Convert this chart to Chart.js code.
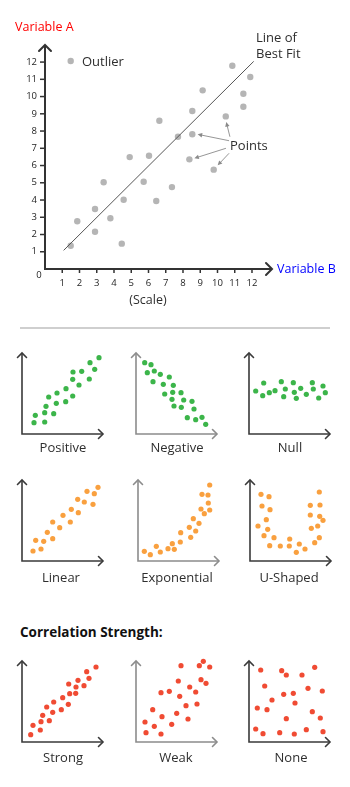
<!DOCTYPE html>
<html><head><meta charset="utf-8">
<script src="https://cdn.jsdelivr.net/npm/chart.js@4.4.1/dist/chart.umd.min.js"></script>
<style>
html,body{margin:0;padding:0;background:#fff;width:350px;height:787px;overflow:hidden;}
#wrap{position:relative;width:350px;height:787px;font-family:"Open Sans",sans-serif;}
canvas{position:absolute;}
.t{position:absolute;white-space:nowrap;line-height:1;color:#2e2e2e;font-size:13px;}
.c{transform:translate(-50%,-50%);}
.l{transform:translateY(-50%);}
</style></head><body><div id="wrap">
<canvas id="main" width="350" height="320" style="left:0;top:0"></canvas>
<div class="t l" style="left:15px;top:27px;color:#ff0000;font-size:12.5px;">Variable A</div>
<div class="t l" style="left:277px;top:269px;color:#0000ff;font-size:12.5px;">Variable B</div>
<div class="t l" style="left:82px;top:61px;">Outlier</div>
<div class="t l" style="left:256px;top:37px;">Line of</div>
<div class="t l" style="left:256px;top:53px;">Best Fit</div>
<div class="t l" style="left:230px;top:145px;">Points</div>
<div class="t c" style="left:148px;top:300px;font-size:12.5px;">(Scale)</div>
<div style="position:absolute;left:20px;top:327px;width:310px;height:1.5px;background:#cfcfcf;"></div>
<div class="t l" style="left:20px;top:633px;color:#111;font-weight:bold;font-size:13.5px;">Correlation Strength:</div>
</div>
<script>
// ---------- main chart data ----------
const mainTicks = [1,2,3,4,5,6,7,8,9,10,11,12];
const pointX = [1.49,1.87,2.90,2.90,3.40,3.79,4.45,4.56,4.91,5.72,6.03,6.45,6.63,7.36,7.71,8.37,8.54,8.54,9.14,9.78,10.48,10.86,11.50,11.50,11.90];
const pointY = [1.35,2.77,3.48,2.16,5.03,2.94,1.47,4.02,6.49,5.06,6.57,3.94,8.60,4.75,7.67,6.36,7.81,9.16,10.36,5.76,8.85,11.79,10.16,9.41,11.13];
const outlierPt = [1.49, 12.06];
const fitLineX = [1.08, 12.10];
const fitLineY = [1.08, 12.04];
// callout arrows: [fromX, fromY, toX, toY] in data units
const calloutArrows = [[10.67,7.44,8.85,7.81],[10.49,7.00,8.66,6.42],[10.72,7.67,10.51,8.52],[10.67,6.71,10.01,6.01]];

// ---------- small chart data (units along 0..81 axes) ----------
const positivePts = [[12,11.3],[13.3,18.7],[22.7,12],[22.7,21.3],[24,27.7],[31.7,20.3],[26.7,37],[35,41],[34.3,30.7],[44,45.3],[43.7,32.3],[51,62],[50.7,54.7],[59.7,62.7],[57,49],[50.7,38],[67.3,55],[68,71.3],[72.7,64.7],[77,76.3]];
const negativePts = [[8.7,71.3],[15,69.3],[11.3,61.3],[18.3,63],[24.3,59.7],[33.3,57],[17,52.3],[27.3,49.7],[37.3,48.7],[28.7,40],[36.7,41.7],[45,41.3],[36,34.7],[47.7,34],[56,32.7],[38,28],[45.3,26.7],[58,25],[51.3,16.3],[59.7,14.3],[66,16.7],[69.7,9.7]];
const nullPts = [[6.7,43],[13.7,38.3],[14.7,51],[20.3,41.3],[26,43.3],[32.3,52.3],[34.7,37.3],[36.3,45],[44.3,51.3],[45.3,41.7],[47.3,35.7],[51.7,45.7],[57.3,39.7],[63.3,51.3],[64.3,45],[69.7,36],[74,48],[76.3,41.3]];
const linearPts = [[11,10],[13.7,20.7],[19,12],[21.7,19.7],[25.3,28.7],[30.7,22.3],[30.7,39],[37.7,33.3],[41,45.7],[48.3,39],[49.3,51.7],[56.3,48.3],[55.7,61.7],[62.3,59],[65,69.7],[71,56.7],[72.3,67.3],[76,73.7]];
const exponentialPts = [[6.3,9.7],[12.3,6.3],[18.3,14.7],[22.3,9],[30,12.3],[34.3,17.3],[36.3,11.7],[42.3,19],[42.7,28.3],[51.3,33.7],[52.7,23.7],[55.3,42.3],[57.7,30],[61,37.7],[63,52],[66.3,47.3],[64,66.7],[70,66],[70.3,58],[71.7,51],[71.7,76]];
const uShapedPts = [[11,66.7],[19,64.3],[12,55],[20,51.3],[16.3,41.3],[8,35],[17.7,31.7],[14,25.3],[24,23.3],[19.7,15.3],[30.3,15],[39.7,22],[39.3,15],[46.3,8.7],[49.3,17],[55,12],[64.7,18.3],[69.3,23.3],[61.3,32.7],[67.7,35],[69.7,44.7],[73,40.7],[60.3,46],[60.3,55.7],[70,56],[69.3,69]];
const strongPts = [[8.7,7.3],[11,16.7],[18.3,12],[19,20.3],[20.7,26.7],[27.3,21.3],[24.7,35],[30.7,29.7],[31.7,40],[39.3,32.3],[40.7,44.3],[46.3,37.7],[47.7,48.3],[46.7,58],[53.7,48.7],[54,55],[56,61.7],[62,56.3],[64.7,70.3],[67,63.7],[74,75]];
const weakPts = [[9,20],[10,9.3],[16.7,32.3],[18.3,15.7],[25,8],[26,25.3],[25,49.3],[33.3,50.7],[35.7,17.7],[40.7,28.7],[42.3,61],[43.7,45.7],[45,76.3],[50,36.3],[52,23],[53.7,55],[59.7,50],[61,38],[63.3,76.3],[65,62.3],[67.3,80.7],[70,58.7],[73.7,75]];
const nonePts = [[11.7,72],[32.7,71.3],[37.3,67],[53,67],[65.7,74.7],[15.7,56],[34.7,47.7],[44.3,48.7],[59,53.7],[73.3,51],[23,42],[46,39],[8.3,34],[18,32.3],[63.3,30.3],[37.3,23.3],[71.3,24],[6.7,13],[14,8.3],[30.7,9.3],[45.3,8],[57.3,12.3],[74,10.3]];

const smallCharts = [
  {name:'Positive', pts:positivePts, color:'#3cb54a', axis:'#3a3a3a', ox:22, tip:353},
  {name:'Negative', pts:negativePts, color:'#3cb54a', axis:'#8c8c8c', ox:136, tip:353},
  {name:'Null', pts:nullPts, color:'#3cb54a', axis:'#3a3a3a', ox:249, tip:353},
  {name:'Linear', pts:linearPts, color:'#f9a03f', axis:'#3a3a3a', ox:22, tip:480},
  {name:'Exponential', pts:exponentialPts, color:'#f9a03f', axis:'#8c8c8c', ox:138, tip:480},
  {name:'U-Shaped', pts:uShapedPts, color:'#f9a03f', axis:'#3a3a3a', ox:250, tip:480},
  {name:'Strong', pts:strongPts, color:'#f04b33', axis:'#3a3a3a', ox:22, tip:661},
  {name:'Weak', pts:weakPts, color:'#f04b33', axis:'#8c8c8c', ox:136, tip:661},
  {name:'None', pts:nonePts, color:'#f04b33', axis:'#3a3a3a', ox:249, tip:661}
];
const labelCenters = [[63,447],[177,447],[290,447],[61,577],[177,577],[289,577],[63,757],[176,757],[291,757]];

function axesPlugin(color, lw, arm){
  return {id:'axes', beforeDatasetsDraw(chart){
    const {ctx, chartArea:a} = chart;
    const x0 = chart.scales.x.getPixelForValue(0), y0 = chart.scales.y.getPixelForValue(0);
    ctx.save();
    ctx.strokeStyle = color; ctx.lineWidth = lw; ctx.lineCap='butt'; ctx.lineJoin='miter';
    ctx.beginPath(); ctx.moveTo(x0, a.top); ctx.lineTo(x0, y0); ctx.lineTo(a.right, y0); ctx.stroke();
    ctx.lineCap='round';
    ctx.beginPath(); ctx.moveTo(x0-arm, a.top+arm); ctx.lineTo(x0, a.top); ctx.lineTo(x0+arm, a.top+arm); ctx.stroke();
    ctx.beginPath(); ctx.moveTo(a.right-arm, y0-arm); ctx.lineTo(a.right, y0); ctx.lineTo(a.right-arm, y0+arm); ctx.stroke();
    ctx.restore();
  }};
}

const mainTicksPlugin = {id:'mainTicks', beforeDatasetsDraw(chart){
  const {ctx} = chart; const xs = chart.scales.x, ys = chart.scales.y;
  const x0 = xs.getPixelForValue(0), y0 = ys.getPixelForValue(0);
  ctx.save();
  ctx.strokeStyle = '#333'; ctx.lineWidth = 1.5; ctx.fillStyle = '#1e1e1e';
  ctx.font = '9.5px "Open Sans", sans-serif';
  mainTicks.forEach(v => {
    const py = ys.getPixelForValue(v);
    ctx.beginPath(); ctx.moveTo(x0-5, py); ctx.lineTo(x0, py); ctx.stroke();
    ctx.textAlign='right'; ctx.textBaseline='middle'; ctx.fillText(String(v), x0-8, py);
    const px = xs.getPixelForValue(v);
    ctx.beginPath(); ctx.moveTo(px, y0); ctx.lineTo(px, y0+4); ctx.stroke();
    ctx.textAlign='center'; ctx.fillText(String(v), px, y0+14);
  });
  ctx.textAlign='center'; ctx.fillText('0', x0-6, y0+6.5);
  ctx.restore();
}};

const calloutPlugin = {id:'callouts', afterDatasetsDraw(chart){
  const {ctx} = chart; const xs = chart.scales.x, ys = chart.scales.y;
  ctx.save(); ctx.strokeStyle='#8a8a8a'; ctx.fillStyle='#8a8a8a'; ctx.lineWidth=0.9;
  calloutArrows.forEach(([fx,fy,tx,ty]) => {
    const x1=xs.getPixelForValue(fx), y1=ys.getPixelForValue(fy), x2=xs.getPixelForValue(tx), y2=ys.getPixelForValue(ty);
    const ang = Math.atan2(y2-y1, x2-x1);
    ctx.beginPath(); ctx.moveTo(x1,y1); ctx.lineTo(x2-3*Math.cos(ang), y2-3*Math.sin(ang)); ctx.stroke();
    ctx.beginPath(); ctx.moveTo(x2,y2);
    ctx.lineTo(x2-4.5*Math.cos(ang)+2.2*Math.sin(ang), y2-4.5*Math.sin(ang)-2.2*Math.cos(ang));
    ctx.lineTo(x2-4.5*Math.cos(ang)-2.2*Math.sin(ang), y2-4.5*Math.sin(ang)+2.2*Math.cos(ang));
    ctx.closePath(); ctx.fill();
  });
  ctx.restore();
}};

const baseOpts = (xmax, ymax, pad) => ({
  responsive:false, devicePixelRatio:1, animation:false,
  layout:{padding:pad},
  scales:{x:{type:'linear', display:false, min:0, max:xmax}, y:{type:'linear', display:false, min:0, max:ymax}},
  plugins:{legend:{display:false}, tooltip:{enabled:false}},
  events:[]
});

new Chart(document.getElementById('main'), {
  type:'scatter',
  data:{datasets:[
    {type:'line', data:fitLineX.map((x,i)=>({x, y:fitLineY[i]})), borderColor:'#555', borderWidth:1, pointRadius:0, showLine:true, fill:false, clip:false},
    {data:pointX.map((x,i)=>({x, y:pointY[i]})), pointBackgroundColor:'#b5b5b5', pointBorderWidth:0, pointRadius:3.2, clip:false},
    {data:[{x:outlierPt[0], y:outlierPt[1]}], pointBackgroundColor:'#b5b5b5', pointBorderWidth:0, pointRadius:3.2, clip:false}
  ]},
  options: baseOpts(13.16, 12.99, {left:45, top:45, right:78, bottom:51}),
  plugins:[axesPlugin('#333', 2, 6), mainTicksPlugin, calloutPlugin]
});

const wrap = document.getElementById('wrap');
smallCharts.forEach((s, i) => {
  const cv = document.createElement('canvas');
  cv.width = 101; cv.height = 101;
  cv.style.left = (s.ox - 10) + 'px'; cv.style.top = (s.tip - 10) + 'px';
  wrap.appendChild(cv);
  new Chart(cv, {
    type:'scatter',
    data:{datasets:[{data:s.pts.map(p=>({x:p[0], y:p[1]})), pointBackgroundColor:s.color, pointBorderWidth:0, pointRadius:2.6, clip:false}]},
    options: baseOpts(81, 81, {left:10, top:10, right:10, bottom:10}),
    plugins:[axesPlugin(s.axis, 1.6, 4.5)]
  });
  const d = document.createElement('div');
  d.className = 't c'; d.textContent = s.name;
  d.style.left = labelCenters[i][0] + 'px'; d.style.top = labelCenters[i][1] + 'px';
  wrap.appendChild(d);
});
</script></body></html>
